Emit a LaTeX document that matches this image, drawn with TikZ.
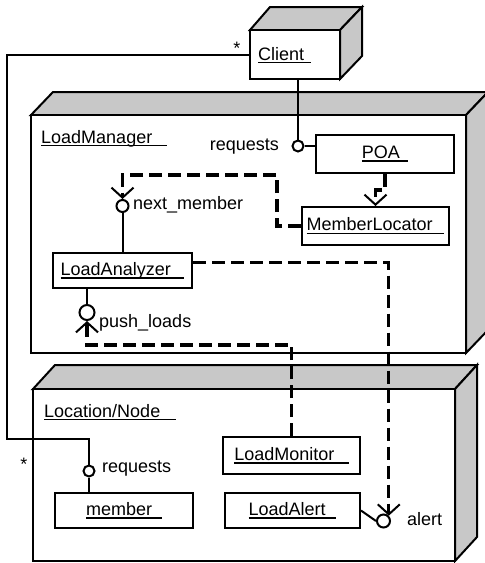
\documentclass[tikz,border=0pt]{standalone}
\usepackage{fontspec}
\setmainfont{Liberation Sans}
\usetikzlibrary{arrows.meta}
\definecolor{facegray}{RGB}{200,200,200}
\newcommand\ulx[2][0.5em]{\setbox0=\hbox{#2\hspace{#1}}\rlap{\vrule width\wd0 height -1.8pt depth 3.4pt}\box0}
\tikzset{
  solidline/.style={line width=2pt},
  face/.style={fill=facegray, draw=black, line width=2pt, line join=miter},
  frontface/.style={fill=white, draw=black, line width=2pt},
  umlbox/.style={draw, fill=white, line width=2pt, inner sep=0pt},
  lolli/.style={circle, draw, fill=white, line width=2pt, inner sep=0pt},
  dep/.style={line width=3.2pt, dash pattern=on 13pt off 6pt, -{Straight Barb[length=10pt,width=22pt,line width=2pt]}},
  lbl/.style={inner sep=0pt},
}
\begin{document}
\begin{tikzpicture}[x=1pt,y=-1pt, font=\fontsize{18}{21}\selectfont]
\useasboundingbox (0,0) rectangle (485,563);
\clip (0,0) rectangle (485,563);

% LoadManager container
\path[face] (31,115) -- (53,92) -- (488,92) -- (466,115) -- cycle;
\path[face] (466,115) -- (488,92) -- (488,330) -- (466,353) -- cycle;
\path[frontface] (31,115) rectangle (466,353);
\node[lbl, anchor=base west] (lmgrlbl) at (41,143) {\ulx[0.8em]{LoadManager}};

% Location/Node container
\path[face] (33,389) -- (55,365) -- (477,365) -- (455,389) -- cycle;
\path[face] (455,389) -- (477,365) -- (477,537) -- (455,561) -- cycle;
\path[frontface] (33,389) rectangle (455,561);
\node[lbl, anchor=base west] (loclbl) at (44,417) {\ulx[0.9em]{Location/Node}};

% Client node
\path[face] (250,30) -- (270,7) -- (362,7) -- (340,30) -- cycle;
\path[face] (340,30) -- (362,7) -- (362,56) -- (340,79) -- cycle;
\node[umlbox, minimum width=90pt, minimum height=49pt] (client) at (295,54.5) {};
\node[lbl, anchor=base west] (clientlbl) at (258,60) {\ulx[0.4em]{Client}};

% component boxes
\node[umlbox, minimum width=138pt, minimum height=38pt] (poa) at (385,154) {\ulx[0.45em]{POA}};
\node[umlbox, minimum width=147pt, minimum height=38pt] (ml) at (375.5,226) {\ulx[0.65em]{MemberLocator}};
\node[umlbox, minimum width=139pt, minimum height=35pt] (la) at (122.5,270.5) {\ulx[0.75em]{LoadAnalyzer}};
\node[umlbox, minimum width=137pt, minimum height=37pt] (lmon) at (291.5,455.5) {\ulx[0.8em]{LoadMonitor}};
\node[umlbox, minimum width=138pt, minimum height=35pt] (member) at (124,510.5) {\ulx[0.55em]{member}};
\node[umlbox, minimum width=135pt, minimum height=35pt] (lalert) at (292.5,510.5) {\ulx[0.6em]{LoadAlert}};

% interface circles
\node[lolli, minimum size=11pt] (c1) at (298,146) {};
\node[lolli, minimum size=12pt] (c2) at (122.5,206) {};
\node[lolli, minimum size=15pt] (c3) at (87,312.5) {};
\node[lolli, minimum size=11pt] (c4) at (89,471) {};
\node[lolli, minimum size=13pt] (c5) at (383.5,521) {};

% solid connectors
\draw[solidline] (c1 |- client.south) -- (c1.north);
\draw[solidline] (c1.east) -- (c1 -| poa.west);
\coordinate (bendL) at (7,439);
\draw[solidline] (client.west) -| (bendL) -| (c4.north);
\draw[solidline] (c4.south) -- (c4 |- member.north);
\draw[solidline] (c2.south) -- (c2 |- la.north);
\draw[solidline] (c3 |- la.south) -- (c3.north);
\draw[solidline] (lalert.east) -- (c5.west);

% dependencies
\draw[dep] (poa.south) -- ++(0,16) -| (ml.north);
\coordinate (nmTop) at (122.5,175);
\draw[dep] (ml.west) -- ++(-24,0) |- (nmTop) -- (c2.north);
\draw[dep] ([yshift=8pt]la.east) -| (c5.north east);
\coordinate (plBend) at (87,345);
\draw[dep] (lmon.north) |- (plBend) -- (c3.south);

% labels
\node[lbl, anchor=base east] (reqpoa) at (279,150) {requests};
\node[lbl, anchor=base west] (nmlbl) at (133,209) {next\_member};
\node[lbl, anchor=base west] (pllbl) at (99,327) {push\_loads};
\node[lbl, anchor=base west] (reqmem) at (102,472) {requests};
\node[lbl, anchor=base west] (alertlbl) at (407,525) {alert};
\node[lbl, anchor=base] (star1) at (237,54) {*};
\node[lbl, anchor=base] (star2) at (24,470) {*};
\end{tikzpicture}
\end{document}
